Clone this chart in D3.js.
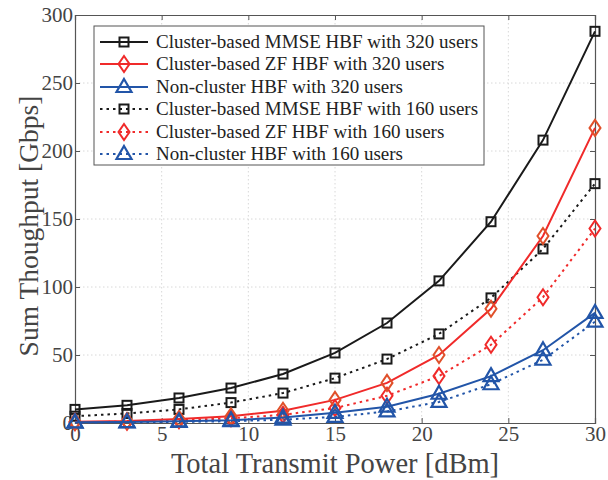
<!DOCTYPE html>
<html><head><meta charset="utf-8">
<script src="https://cdn.jsdelivr.net/npm/d3@7"></script>
<style>body{margin:0;background:#fff}</style>
</head><body>
<svg id="c" width="608" height="480"></svg>
<script>
const power = [0,3,6,9,12,15,18,21,24,27,30];
const mmse320 = [10,13,18.4,25.7,36,51.5,73.5,104.5,148,208,288];
const zf320 = [1,1.5,3,5,9,17,29.5,50,84,137.5,217];
const nc320 = [0.5,0.7,1.2,2,4,7.5,12,21.5,34.5,53.5,81];
const mmse160 = [5,7,10,15,22,33,47,65.5,92,128,176];
const zf160 = [0.5,1,2,3.5,6,11,20,34.5,57.5,92.5,143];
const nc160 = [0.3,0.5,0.8,1.3,2.5,4.5,8.5,15.5,28.5,46.5,74.5];
const seriesNames = ["Cluster-based MMSE HBF with 320 users","Cluster-based ZF HBF with 320 users","Non-cluster HBF with 320 users","Cluster-based MMSE HBF with 160 users","Cluster-based ZF HBF with 160 users","Non-cluster HBF with 160 users"];
const xTicks = [0,5,10,15,20,25,30];
const yTicks = [0,50,100,150,200,250,300];

const series = [
 {name:seriesNames[0], v:mmse320, color:"#1a1a1a", mcol:"#1a1a1a", dash:null, m:"square"},
 {name:seriesNames[1], v:zf320, color:"#f02a2a", mcol:"#e0502a", dash:null, m:"diamond"},
 {name:seriesNames[2], v:nc320, color:"#2255a8", mcol:"#2255a8", dash:null, m:"triangle"},
 {name:seriesNames[3], v:mmse160, color:"#1a1a1a", mcol:"#1a1a1a", dash:"2.5,4", m:"square"},
 {name:seriesNames[4], v:zf160, color:"#f02a2a", mcol:"#f02a2a", dash:"2.5,4", m:"diamond"},
 {name:seriesNames[5], v:nc160, color:"#2255a8", mcol:"#2255a8", dash:"2.5,4", m:"triangle"}
];

const svg = d3.select("#c");
const L=75,R=595,T=15,B=423;
const x = d3.scaleLinear().domain([0,30]).range([L,R]);
const y = d3.scaleLinear().domain([0,300]).range([B,T]);
const font = "'Liberation Serif','Times New Roman',serif";

// grid
const g = svg.append("g");
g.selectAll(".gx").data(xTicks.slice(1,-1)).enter().append("line")
 .attr("x1",d=>x(d)).attr("x2",d=>x(d)).attr("y1",T).attr("y2",B)
 .attr("stroke","#d8d8d8").attr("stroke-dasharray","1.5,2.5");
g.selectAll(".gy").data(yTicks.slice(1,-1)).enter().append("line")
 .attr("y1",d=>y(d)).attr("y2",d=>y(d)).attr("x1",L).attr("x2",R)
 .attr("stroke","#d8d8d8").attr("stroke-dasharray","1.5,2.5");

// axes
svg.append("g").attr("transform",`translate(0,${B})`)
 .call(d3.axisBottom(x).tickValues(xTicks).tickSize(-5).tickPadding(3));
svg.append("g").attr("transform",`translate(${L},0)`)
 .call(d3.axisLeft(y).tickValues(yTicks).tickSize(-5).tickPadding(2));
svg.append("g").attr("transform",`translate(0,${T})`)
 .call(d3.axisTop(x).tickValues(xTicks).tickSize(-5).tickFormat(""));
svg.append("g").attr("transform",`translate(${R},0)`)
 .call(d3.axisRight(y).tickValues(yTicks).tickSize(-5).tickFormat(""));
svg.selectAll(".domain").attr("stroke","#555").attr("stroke-width",1.2);
svg.selectAll(".tick line").attr("stroke","#555");
svg.selectAll(".tick text").attr("font-family",font).attr("font-size",21).attr("fill","#444");

// axis labels
svg.append("text").attr("x",335).attr("y",473).attr("text-anchor","middle")
 .attr("font-family",font).attr("font-size",28.5).attr("fill","#444").text("Total Transmit Power [dBm]");
svg.append("text").attr("transform",`translate(38,${226}) rotate(-90)`).attr("text-anchor","middle")
 .attr("font-family",font).attr("font-size",27.5).attr("fill","#444").text("Sum Thoughput [Gbps]");

function marker(sel, type, cx, cy, col){
  if(type==="square"){
    sel.append("rect").attr("x",cx-4.5).attr("y",cy-4.5).attr("width",9).attr("height",9)
      .attr("fill","none").attr("stroke",col).attr("stroke-width",2);
  } else if(type==="diamond"){
    sel.append("path").attr("d",`M${cx},${cy-8}L${cx+5.5},${cy}L${cx},${cy+8}L${cx-5.5},${cy}Z`)
      .attr("fill","none").attr("stroke",col).attr("stroke-width",2);
  } else {
    sel.append("path").attr("d",`M${cx},${cy-8}L${cx+7.5},${cy+5}L${cx-7.5},${cy+5}Z`)
      .attr("fill","none").attr("stroke",col).attr("stroke-width",2.2);
  }
}

const line = d3.line().x((d,i)=>x(power[i])).y(d=>y(d));
const order = [3,4,5,0,1,2];
order.forEach(k=>{
  const s=series[k];
  const gs = svg.append("g");
  gs.append("path").attr("d",line(s.v)).attr("fill","none").attr("stroke",s.color)
   .attr("stroke-width",2).attr("stroke-dasharray",s.dash);
  s.v.forEach((v,i)=>marker(gs,s.m,x(power[i]),y(v),s.mcol));
});

// legend
const lg = svg.append("g");
lg.append("rect").attr("x",94).attr("y",26).attr("width",390).attr("height",139)
 .attr("fill","#fff").attr("stroke","#555").attr("stroke-width",1);
const rowY=[42,64,87,109,132,154];
series.forEach((s,i)=>{
  const ry=rowY[i];
  lg.append("line").attr("x1",100).attr("x2",148).attr("y1",ry).attr("y2",ry)
   .attr("stroke",s.color).attr("stroke-width",2).attr("stroke-dasharray",s.dash);
  marker(lg,s.m,124,ry,s.color);
  lg.append("text").attr("x",156).attr("y",ry+6).attr("font-family",font).attr("font-size",19)
   .attr("fill","#222").text(s.name);
});
</script>
</body></html>
